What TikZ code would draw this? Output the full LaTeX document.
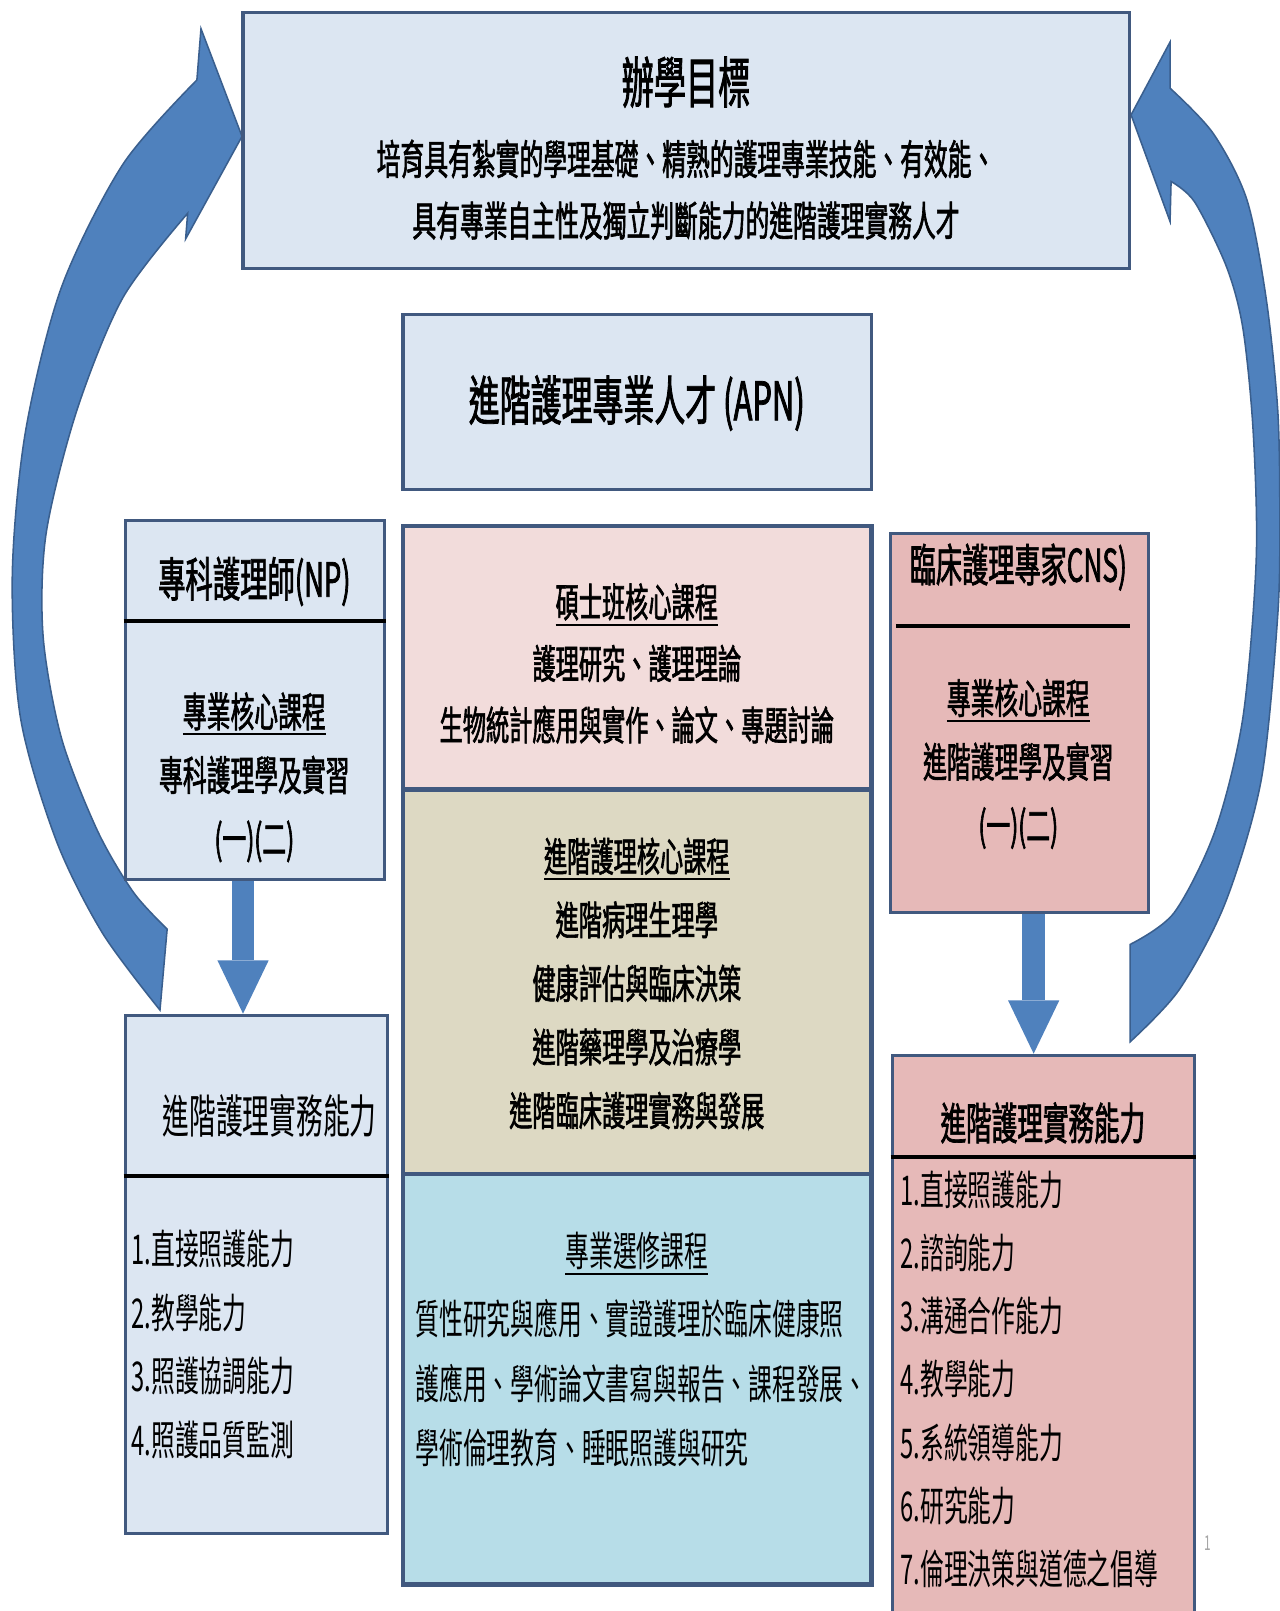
\documentclass[tikz,border=0pt]{standalone}
\usepackage{fontspec}
\usepackage{xcolor}
\usetikzlibrary{arrows.meta,calc}
\setmainfont{Noto Sans CJK TC}[FakeStretch=0.58]
\newfontfamily\boldcjk{Noto Sans CJK TC}[FakeStretch=0.58,FakeBold=1.5]
\definecolor{boxedge}{HTML}{41597F}
\definecolor{paleblue}{HTML}{DCE6F2}
\definecolor{palepink}{HTML}{F2DCDB}
\definecolor{khaki}{HTML}{DDD9C3}
\definecolor{aqua}{HTML}{B7DDE8}
\definecolor{rose}{HTML}{E6B9B8}
\definecolor{arrowblue}{HTML}{4F81BD}
\definecolor{arrowedge}{HTML}{3A5F8E}
\newcommand{\undl}[1]{\vtop{\hbox{#1}\kern3pt\hrule height 2pt}}
\tikzstyle{panel} = [rectangle, draw=boxedge, line width=3pt, inner sep=0pt]
\tikzstyle{sepline} = [line width=4pt, black]
\tikzstyle{blockarrow} = [line width=22pt, draw=arrowblue, -{Triangle[width=50pt,length=52pt,line width=0pt]}]
\tikzstyle{curvedarrow} = [fill=arrowblue, draw=arrowedge, line width=1.5pt]
\tikzstyle{boldtxt} = [font=\boldcjk\fontsize{40}{62}\selectfont, align=center, inner sep=0pt]
\tikzstyle{listtxt} = [font=\fontsize{40}{62}\selectfont, align=left, inner sep=0pt, anchor=west]

\begin{document}
\begin{tikzpicture}[x=1pt, y=-1pt]
\path[use as bounding box, fill=white] (0,0) rectangle (1248,1571);

% curved arrows back to the goal
\filldraw[curvedarrow] (183,208) -- (181,233) -- (236,133) -- (196,28) -- (192,78)
  -- plot[smooth] coordinates {(192,78) (120,160) (60,280) (25,420) (12,560) (20,700) (55,820) (100,910) (156,985)}
  -- (163,906)
  -- plot[smooth] coordinates {(163,906) (130,870) (95,810) (60,720) (42,620) (45,520) (75,400) (120,290) (183,208)} -- cycle;
\filldraw[curvedarrow] (1141,86) -- (1141,41) -- (1103,112) -- (1141,216) -- (1142,177)
  -- plot[smooth] coordinates {(1142,177) (1165,197) (1196,260) (1212,320) (1222,420) (1225,546) (1212,700) (1185,810) (1145,890) (1102,921)}
  -- (1102,1016)
  -- plot[smooth] coordinates {(1102,1016) (1150,965) (1195,880) (1230,760) (1246,600) (1248,500) (1246,400) (1235,293) (1216,195) (1183,130) (1141,86)} -- cycle;

% goal
\node (goal) [panel, fill=paleblue, minimum width=864pt, minimum height=250pt] at (669,137) {};
\node (goalhead) [boldtxt, font=\boldcjk\fontsize{54}{60}\selectfont] at (669,80) {辦學目標};
\node (goaltext) [boldtxt, font=\boldcjk\fontsize{40}{60}\selectfont] at (669,185) {培育具有紮實的學理基礎、精熟的護理專業技能、有效能、\\具有專業自主性及獨立判斷能力的進階護理實務人才};

% middle column
\node (apn) [panel, fill=paleblue, minimum width=457pt, minimum height=170pt] at (621.5,392) {};
\node (apntext) [boldtxt, font=\boldcjk\fontsize{52}{60}\selectfont] at (621,393) {進階護理專業人才 (APN)};

\node (core) [panel, fill=palepink, line width=4.5pt, minimum width=457pt, minimum height=257pt] at (621.5,641.5) {};
\node (coretext) [boldtxt, font=\boldcjk\fontsize{39}{60}\selectfont] at (621,647) {\undl{碩士班核心課程}\\護理研究、護理理論\\生物統計應用與實作、論文、專題討論};

\node (apncore) [panel, fill=khaki, line width=4.5pt, minimum width=457pt, minimum height=375pt] at (621.5,957.5) {};
\node (apncoretext) [boldtxt, font=\boldcjk\fontsize{39}{62}\selectfont] at (621,959) {\undl{進階護理核心課程}\\進階病理生理學\\健康評估與臨床決策\\進階藥理學及治療學\\進階臨床護理實務與發展};

\node (elective) [panel, fill=aqua, line width=4.5pt, minimum width=457pt, minimum height=400pt] at (621.5,1345) {};
\node (electivehead) [listtxt, anchor=center] at (621,1222) {\undl{專業選修課程}};
\node (electivetext) [listtxt, font=\fontsize{40}{63}\selectfont] at (405,1349) {質性研究與應用、實證護理於臨床健康照\\護應用、學術論文書寫與報告、課程發展、\\學術倫理教育、睡眠照護與研究};

% NP side
\node (np) [panel, fill=paleblue, minimum width=253pt, minimum height=350pt] at (248.5,683) {};
\node (nphead) [boldtxt, font=\boldcjk\fontsize{46}{60}\selectfont] at (248,567) {專科護理師(NP)};
\draw[sepline] ($(np.north west)+(0,99)$) -- ($(np.north east)+(0,99)$);
\node (nptext) [boldtxt] at (248,758) {\undl{專業核心課程}\\專科護理學及實習\\(一)(二)};

\node (npabil) [panel, fill=paleblue, minimum width=256pt, minimum height=505pt] at (250,1242.5) {};
\node (npabilhead) [listtxt, anchor=center, font=\fontsize{45}{60}\selectfont] at (263,1088) {進階護理實務能力};
\draw[sepline] ($(npabil.north west)+(0,158)$) -- ($(npabil.north east)+(0,158)$);
\node (npabillist) [listtxt] at (128,1311) {1.直接照護能力\\2.教學能力\\3.照護協調能力\\4.照護品質監測};

% CNS side
\node (cns) [panel, fill=rose, minimum width=252pt, minimum height=370pt] at (994,705) {};
\node (cnshead) [boldtxt, font=\boldcjk\fontsize{44}{60}\selectfont] at (993,553) {臨床護理專家CNS)};
\draw[sepline] ($(cns.north west)+(7,92)$) -- ($(cns.north east)+(-20,92)$);
\node (cnstext) [boldtxt] at (993,745) {\undl{專業核心課程}\\進階護理學及實習\\(一)(二)};

\node (cnsabil) [panel, fill=rose, minimum width=295pt, minimum height=571pt] at (1017.5,1314.5) {};
\node (cnsabilhead) [boldtxt, font=\boldcjk\fontsize{43}{60}\selectfont] at (1017,1095) {進階護理實務能力};
\draw[sepline] ($(cnsabil.north west)+(0,101)$) -- ($(cnsabil.north east)+(0,101)$);
\node (cnsabillist) [listtxt, font=\fontsize{40}{61.7}\selectfont] at (878,1345) {1.直接照護能力\\2.諮詢能力\\3.溝通合作能力\\4.教學能力\\5.系統領導能力\\6.研究能力\\7.倫理決策與道德之倡導};

% down arrows
\draw[blockarrow] ($(np.south)+(-11.5,0)$) -- ($(npabil.north)+(-13,0)$);
\draw[blockarrow] ($(cns.south)+(14,0)$) -- ($(cnsabil.north)+(-9.5,0)$);

\node (pagenum) [text=gray!70, font=\fontsize{20}{24}\selectfont] at (1178,1505) {1};
\end{tikzpicture}
\end{document}
